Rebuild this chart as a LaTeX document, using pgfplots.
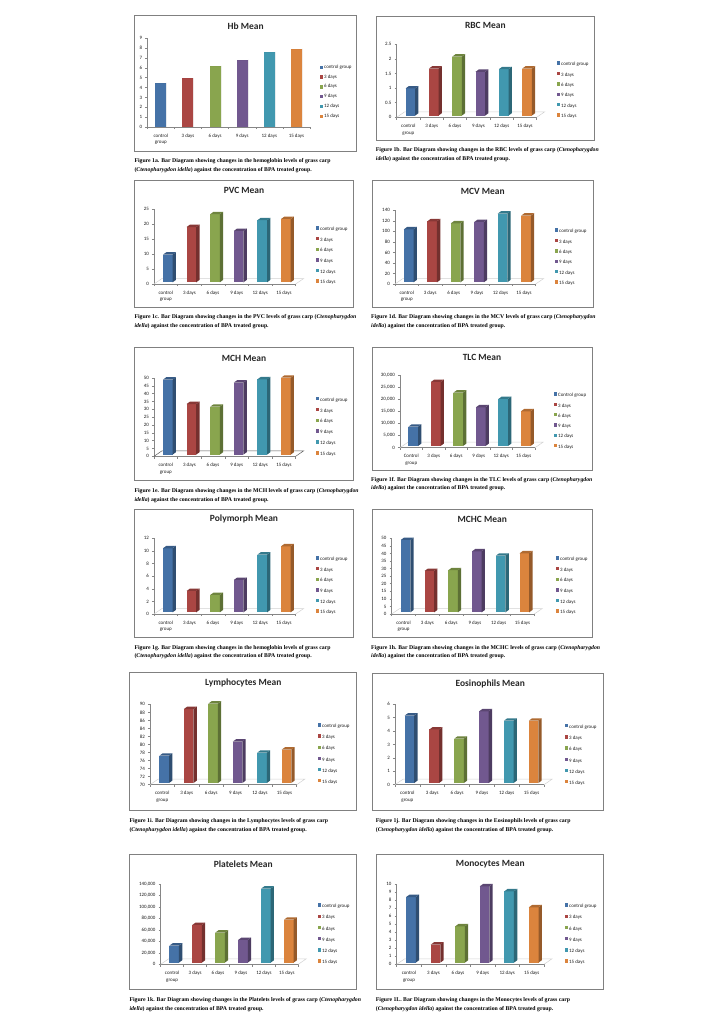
\documentclass[border=0pt]{standalone}
\usepackage{fontspec}
\setmainfont{Carlito}
\newfontfamily\capfont{Liberation Serif}
\usepackage{pgfplots}
\pgfplotsset{compat=1.18}

\definecolor{c1}{HTML}{4572A7}
\definecolor{c2}{HTML}{AA4643}
\definecolor{c3}{HTML}{89A54E}
\definecolor{c4}{HTML}{71588F}
\definecolor{c5}{HTML}{4198AF}
\definecolor{c6}{HTML}{DB843D}
\definecolor{framegray}{HTML}{808080}
\definecolor{axisgray}{HTML}{868686}

% bar geometry, in image pixels (1 px = 1 bp)
\def\bw{9.6bp}\def\bh{4.8bp}
\def\fx{2bp}\def\fy{1.7bp}
\def\dx{3.3bp}\def\dy{2.4bp}
\def\base{0}

\newcommand{\threed}[3]{%
  \addplot[ybar, bar width=\bw, bar shift=\fx, yshift=\fy, fill=#3, draw=none] coordinates {(#1,#2)};
  \fill[#3!68!black] ([shift={(\bh+\fx,\fy)}]axis cs:#1,\base) -- ++(\dx,\dy)
    -- ([shift={(\bh+\fx+\dx,\fy+\dy)}]axis cs:#1,#2) -- ++(-\dx,-\dy) -- cycle;
  \fill[#3!80!black] ([shift={(\fx-\bh,\fy)}]axis cs:#1,#2) -- ++(\dx,\dy)
    -- ([shift={(\bh+\fx+\dx,\fy+\dy)}]axis cs:#1,#2) -- ++(-\dx,-\dy) -- cycle;
}
\newcommand{\floorline}[1][black!18]{%
  \draw[#1, line width=.5bp] (axis cs:-0.5,\base) -- ++(8bp,5.5bp)
    -- ([shift={(8bp,5.5bp)}]axis cs:5.5,\base) -- (axis cs:5.5,\base);
}
\newcommand{\sixbars}[6]{%
  \threed{0}{#1}{c1}\threed{1}{#2}{c2}\threed{2}{#3}{c3}%
  \threed{3}{#4}{c4}\threed{4}{#5}{c5}\threed{5}{#6}{c6}%
}
\newcommand{\ttl}[3]{\node[font=\fontsize{9.5}{11}\selectfont\bfseries, inner sep=0pt, text=black!85] at (#1bp,-#2bp) {#3};}
\newcommand{\cpt}[4]{%
  \node[font=\capfont\fontsize{5.8}{6.5}\selectfont\bfseries, anchor=base west, inner sep=0pt] at (#1bp,-#2bp) {#4};
}
\newcommand{\spc}{\textit{Ctenopharygdon idella}}

\pgfplotsset{
  panel/.style={
    scale only axis, anchor=south west, clip=false,
    axis x line*=bottom, axis y line*=left,
    axis line style={axisgray, line width=.5bp},
    xmin=-0.5, xmax=5.5,
    xtick={0,...,5},
    xticklabels={{control\\group},3 days,6 days,9 days,12 days,15 days},
    minor xtick={-0.5,0.5,...,5.5},
    major x tick style={draw=none},
    minor x tick style={axisgray, line width=.5bp},
    y tick style={axisgray, line width=.5bp},
    tick align=outside, major tick length=2.2bp, minor tick length=2.2bp,
    x tick label style={font=\fontsize{5}{6.6}\selectfont, align=center, anchor=north, inner sep=0pt, yshift=-4.4bp, text=black!90},
    y tick label style={font=\fontsize{5}{5.5}\selectfont, anchor=east, inner sep=0pt, xshift=-2.8bp, text=black!90},
    /pgf/number format/assume math mode=true,
    /pgf/number format/fixed,
    /pgf/number format/1000 sep={,},
    scaled y ticks=false,
    legend style={at={(1,1)}, anchor=north west, draw=none, fill=none, inner sep=0pt, outer sep=0pt,
      font=\fontsize{5}{5.5}\selectfont, text=black!90,
      nodes={inner ysep=0pt, inner xsep=.8bp, text height=3bp, text depth=1bp}},
    legend cell align=left,
    legend image code/.code={\fill[##1] (0bp,-1.7bp) rectangle (3.4bp,1.7bp);},
  },
}

\begin{document}
\begin{tikzpicture}[x=1bp,y=1bp]
\path[use as bounding box] (0bp,0bp) rectangle (715bp,-1033bp);

% ---------- 1a
\begin{scope}
\def\bw{11bp}\def\bh{5.5bp}\def\fx{0bp}\def\fy{0bp}\def\dx{0bp}\def\dy{0bp}
\draw[framegray, line width=.9bp] (134.3bp,-15.7bp) rectangle (356.7bp,-151.7bp);
\ttl{245.7}{26}{Hb Mean}
\begin{axis}[panel, at={(147.3bp,-127bp)}, width=162.7bp, height=88.7bp, ymin=0, ymax=9, ytick={0,...,9},
  legend style={xshift=10bp, yshift=-27bp, row sep=5.8bp}]
\sixbars{4.47}{4.97}{6.19}{6.8}{7.61}{7.92}
\legend{control group,3 days,6 days,9 days,12 days,15 days}
\end{axis}
\cpt{134.3}{162.5}{}{Figure 1a. Bar Diagram showing changes in the hemoglobin levels of grass carp}
\cpt{134.3}{171.8}{}{(\spc) against the concentration of BPA treated group.}
\end{scope}

% ---------- 1b
\draw[framegray, line width=.9bp] (376.3bp,-16.3bp) rectangle (594.7bp,-140.3bp);
\ttl{485.3}{25}{RBC Mean}
\begin{axis}[panel, at={(396.7bp,-117.3bp)}, width=140bp, height=73bp, ymin=0, ymax=2.5, ytick={0,0.5,1,1.5,2,2.5},
  legend style={xshift=20.3bp, yshift=-17bp, row sep=5bp}]
\floorline
\sixbars{0.93}{1.61}{2.02}{1.5}{1.59}{1.61}
\legend{control group,3 days,6 days,9 days,12 days,15 days}
\end{axis}
\cpt{375.7}{151.5}{}{Figure 1b. Bar Diagram showing changes in the RBC levels of grass carp (\textit{Ctenopharygdon}}
\cpt{375.7}{160.5}{}{\textit{idella}) against the concentration of BPA treated group.}

% ---------- 1c
\draw[framegray, line width=.9bp] (134.3bp,-180.3bp) rectangle (353.3bp,-307.3bp);
\ttl{244}{190}{PVC Mean}
\begin{axis}[panel, at={(154bp,-284bp)}, width=141.7bp, height=74.7bp, ymin=0, ymax=25, ytick={0,5,...,25},
  legend style={xshift=20.3bp, yshift=-17bp, row sep=5.2bp}]
\floorline
\sixbars{9.26}{18.5}{22.8}{17.2}{20.8}{21.2}
\legend{control group,3 days,6 days,9 days,12 days,15 days}
\end{axis}
\cpt{134.3}{318.5}{}{Figure 1c. Bar Diagram showing changes in the PVC levels of grass carp (\textit{Ctenopharygdon}}
\cpt{134.3}{327}{}{\textit{idella}) against the concentration of BPA treated group.}

% ---------- 1d
\draw[framegray, line width=.9bp] (372.3bp,-180.3bp) rectangle (593.7bp,-307.3bp);
\ttl{482.7}{191}{MCV Mean}
\begin{axis}[panel, at={(395bp,-284bp)}, width=140.7bp, height=73.7bp, ymin=0, ymax=140, ytick={0,20,...,140},
  legend style={xshift=19.3bp, yshift=-18bp, row sep=5bp}]
\floorline
\sixbars{100.7}{115.9}{112}{114.6}{130.5}{126.7}
\legend{control group,3 days,6 days,9 days,12 days,15 days}
\end{axis}
\cpt{371}{318}{}{Figure 1d. Bar Diagram showing changes in the MCV levels of grass carp (\textit{Ctenopharygdon}}
\cpt{371}{327}{}{\textit{idella}) against the concentration of BPA treated group.}

% ---------- 1e
\draw[framegray, line width=.9bp] (134.3bp,-347.3bp) rectangle (353.3bp,-480.3bp);
\ttl{244}{358}{MCH Mean}
\begin{axis}[panel, at={(154bp,-456.3bp)}, width=141.7bp, height=78.3bp, ymin=0, ymax=50, ytick={0,5,...,50},
  legend style={xshift=20.3bp, yshift=-18.7bp, row sep=5.5bp}]
\floorline[black!65]
\sixbars{47.9}{32.3}{30.6}{46}{48.1}{49.1}
\legend{control group,3 days,6 days,9 days,12 days,15 days}
\end{axis}
\cpt{134.3}{492.5}{}{Figure 1e. Bar Diagram showing changes in the MCH levels of grass carp (\textit{Ctenopharygdon}}
\cpt{134.3}{501}{}{\textit{idella}) against the concentration of BPA treated group.}

% ---------- 1f
\draw[framegray, line width=.9bp] (372.3bp,-347.3bp) rectangle (592.7bp,-470.7bp);
\ttl{482}{357.3}{TLC Mean}
\begin{axis}[panel, at={(400bp,-447.7bp)}, width=135bp, height=72.4bp, ymin=0, ymax=30000, ytick={0,5000,...,30000},
  xticklabels={{Control\\group},3 days,6 days,9 days,12 days,15 days},
  legend style={xshift=19bp, yshift=-17bp, row sep=4.9bp}]
\floorline
\sixbars{8018}{26544}{22120}{16037}{19493}{14378}
\legend{Control group,3 days,6 days,9 days,12 days,15 days}
\end{axis}
\cpt{371}{481}{}{Figure 1f. Bar Diagram showing changes in the TLC levels of grass carp (\textit{Ctenopharygdon}}
\cpt{371}{489}{}{\textit{idella}) against the concentration of BPA treated group.}

% ---------- 1g
\draw[framegray, line width=.9bp] (134.3bp,-509.3bp) rectangle (353.3bp,-637.3bp);
\ttl{244}{519}{Polymorph Mean}
\begin{axis}[panel, at={(154bp,-614bp)}, width=141.7bp, height=75.7bp, ymin=0, ymax=12, ytick={0,2,...,12},
  legend style={xshift=20.3bp, yshift=-18bp, row sep=5.2bp}]
\floorline
\sixbars{10.15}{3.38}{2.75}{5.13}{9.15}{10.47}
\legend{control group,3 days,6 days,9 days,12 days,15 days}
\end{axis}
\cpt{134.3}{649}{}{Figure 1g. Bar Diagram showing changes in the hemoglobin levels of grass carp}
\cpt{134.3}{657.3}{}{(\spc) against the concentration of BPA treated group.}

% ---------- 1h
\draw[framegray, line width=.9bp] (372.3bp,-509.3bp) rectangle (592.7bp,-637.3bp);
\ttl{482.3}{519}{MCHC Mean}
\begin{axis}[panel, at={(391.7bp,-614bp)}, width=142.6bp, height=75.7bp, ymin=0, ymax=50, ytick={0,5,...,50},
  legend style={xshift=21.7bp, yshift=-18bp, row sep=5.2bp}]
\floorline
\sixbars{47.8}{27.3}{27.8}{40.3}{37.4}{39}
\legend{control group,3 days,6 days,9 days,12 days,15 days}
\end{axis}
\cpt{371}{649}{}{Figure 1h. Bar Diagram showing changes in the MCHC levels of grass carp (\textit{Ctenopharygdon}}
\cpt{371}{657.3}{}{\textit{idella}) against the concentration of BPA treated group.}

% ---------- 1i
\begin{scope}
\def\base{70}
\draw[framegray, line width=.9bp] (129.3bp,-672.3bp) rectangle (356.7bp,-810.7bp);
\ttl{243.3}{683}{Lymphocytes Mean}
\begin{axis}[panel, clip=true, clip mode=individual, at={(150bp,-784.7bp)}, width=146.7bp, height=80.4bp, ymin=70, ymax=90, ytick={70,72,...,90},
  legend style={xshift=21.3bp, yshift=-19bp, row sep=5.7bp}]
\floorline
\sixbars{76.8}{88.4}{89.75}{80.3}{77.55}{78.3}
\legend{control group,3 days,6 days,9 days,12 days,15 days}
\end{axis}
\cpt{129.3}{822.5}{}{Figure 1i. Bar Diagram showing changes in the Lymphocytes levels of grass carp}
\cpt{129.3}{831}{}{(\spc) against the concentration of BPA treated group.}
\end{scope}

% ---------- 1j
\draw[framegray, line width=.9bp] (372.3bp,-673.7bp) rectangle (603.7bp,-810.7bp);
\ttl{490.3}{684}{Eosinophils Mean}
\begin{axis}[panel, at={(395bp,-784.7bp)}, width=149bp, height=80.4bp, ymin=0, ymax=6, ytick={0,...,6},
  legend style={xshift=21bp, yshift=-19.7bp, row sep=5.8bp}]
\floorline
\sixbars{5.03}{4.0}{3.31}{5.35}{4.65}{4.65}
\legend{control group,3 days,6 days,9 days,12 days,15 days}
\end{axis}
\cpt{375.7}{822.5}{}{Figure 1j. Bar Diagram showing changes in the Eosinophils levels of grass carp}
\cpt{375.7}{831}{}{(\spc) against the concentration of BPA treated group.}

% ---------- 1k
\draw[framegray, line width=.9bp] (129.3bp,-854.3bp) rectangle (356.7bp,-989.3bp);
\ttl{243.3}{864}{Platelets Mean}
\begin{axis}[panel, at={(160.7bp,-964.3bp)}, width=137.6bp, height=80.3bp, ymin=0, ymax=140000, ytick={0,20000,...,140000},
  legend style={xshift=19.7bp, yshift=-19.3bp, row sep=5.8bp}]
\floorline
\sixbars{29600}{65600}{52300}{39500}{129000}{74900}
\legend{control group,3 days,6 days,9 days,12 days,15 days}
\end{axis}
\cpt{129.3}{1001}{}{Figure 1k. Bar Diagram showing changes in the Platelets levels of grass carp (\textit{Ctenopharygdon}}
\cpt{129.3}{1010}{}{\textit{idella}) against the concentration of BPA treated group.}

% ---------- 1l
\draw[framegray, line width=.9bp] (376.3bp,-854.3bp) rectangle (603.7bp,-989.3bp);
\ttl{490.3}{864}{Monocytes Mean}
\begin{axis}[panel, at={(396.7bp,-964.3bp)}, width=147.3bp, height=80bp, ymin=0, ymax=10, ytick={0,...,10},
  legend style={xshift=21bp, yshift=-19bp, row sep=5.8bp}]
\floorline
\sixbars{8.2}{2.25}{4.54}{9.54}{8.92}{6.92}
\legend{control group,3 days,6 days,9 days,12 days,15 days}
\end{axis}
\cpt{375.7}{1001}{}{Figure 1L. Bar Diagram showing changes in the Monocytes levels of grass carp}
\cpt{375.7}{1010}{}{(\spc) against the concentration of BPA treated group.}

\end{tikzpicture}
\end{document}
